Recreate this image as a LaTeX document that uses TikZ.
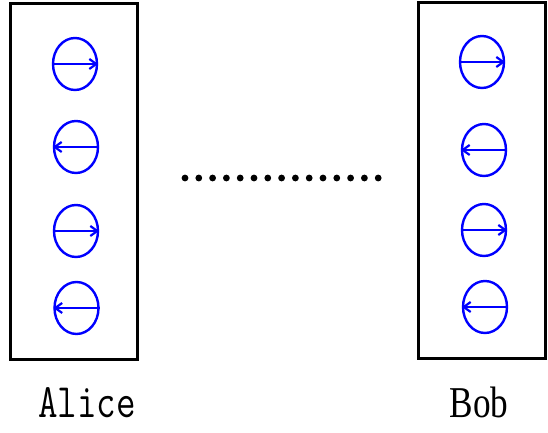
\documentclass[tikz,border=0pt]{standalone}
\usepackage{fontspec}
\newfontfamily\alicefont{Latin Modern Mono}
\newfontfamily\bobfont{Liberation Serif}
\usetikzlibrary{shapes.geometric,arrows.meta}
\begin{document}
\begin{tikzpicture}[x=0.5pt, y=-0.5pt, box/.style={draw, line width=1.5pt, minimum width=63.5pt, minimum height=178pt, inner sep=0pt}, spin/.style={ellipse, draw=blue, line width=1.2pt, minimum width=22pt, minimum height=26pt, inner sep=0pt}, spinarrow/.style={blue, line width=1.1pt, -{Straight Barb[length=3.5pt, width=5pt]}}, who/.style={inner sep=0pt}]
	\useasboundingbox (0,0) rectangle (548,433);

		\node[box] (alicebox) at (74.5,182) {};
		\node[box] (bobbox) at (482.5,180.5) {};

		\node[spin] (a1) at (75,64) {};
		\node[spin] (a2) at (76,147) {};
		\node[spin] (a3) at (76,231) {};
		\node[spin] (a4) at (76.5,308) {};

		\node[spin] (b1) at (482,62) {};
		\node[spin] (b2) at (484,150) {};
		\node[spin] (b3) at (484,230) {};
		\node[spin] (b4) at (485,307) {};

		\draw[spinarrow] (a1.west) -- (a1.east);
		\draw[spinarrow] (a2.east) -- (a2.west);
		\draw[spinarrow] (a3.west) -- (a3.east);
		\draw[spinarrow] (a4.east) -- (a4.west);

		\draw[spinarrow] (b1.west) -- (b1.east);
		\draw[spinarrow] (b2.east) -- (b2.west);
		\draw[spinarrow] (b3.west) -- (b3.east);
		\draw[spinarrow] (b4.east) -- (b4.west);

		\foreach \i in {0,...,14}
			\fill (185+13.8*\i,178) circle (1.7pt);

		\node[who] (alice) at (87,403) {\scalebox{0.79}[1]{\alicefont\fontsize{24}{24}\selectfont Alice}};
		\node[who] (bob) at (479,402) {\scalebox{0.8}[1]{\bobfont\fontsize{22}{22}\selectfont Bob}};
	\end{tikzpicture}
\end{document}
